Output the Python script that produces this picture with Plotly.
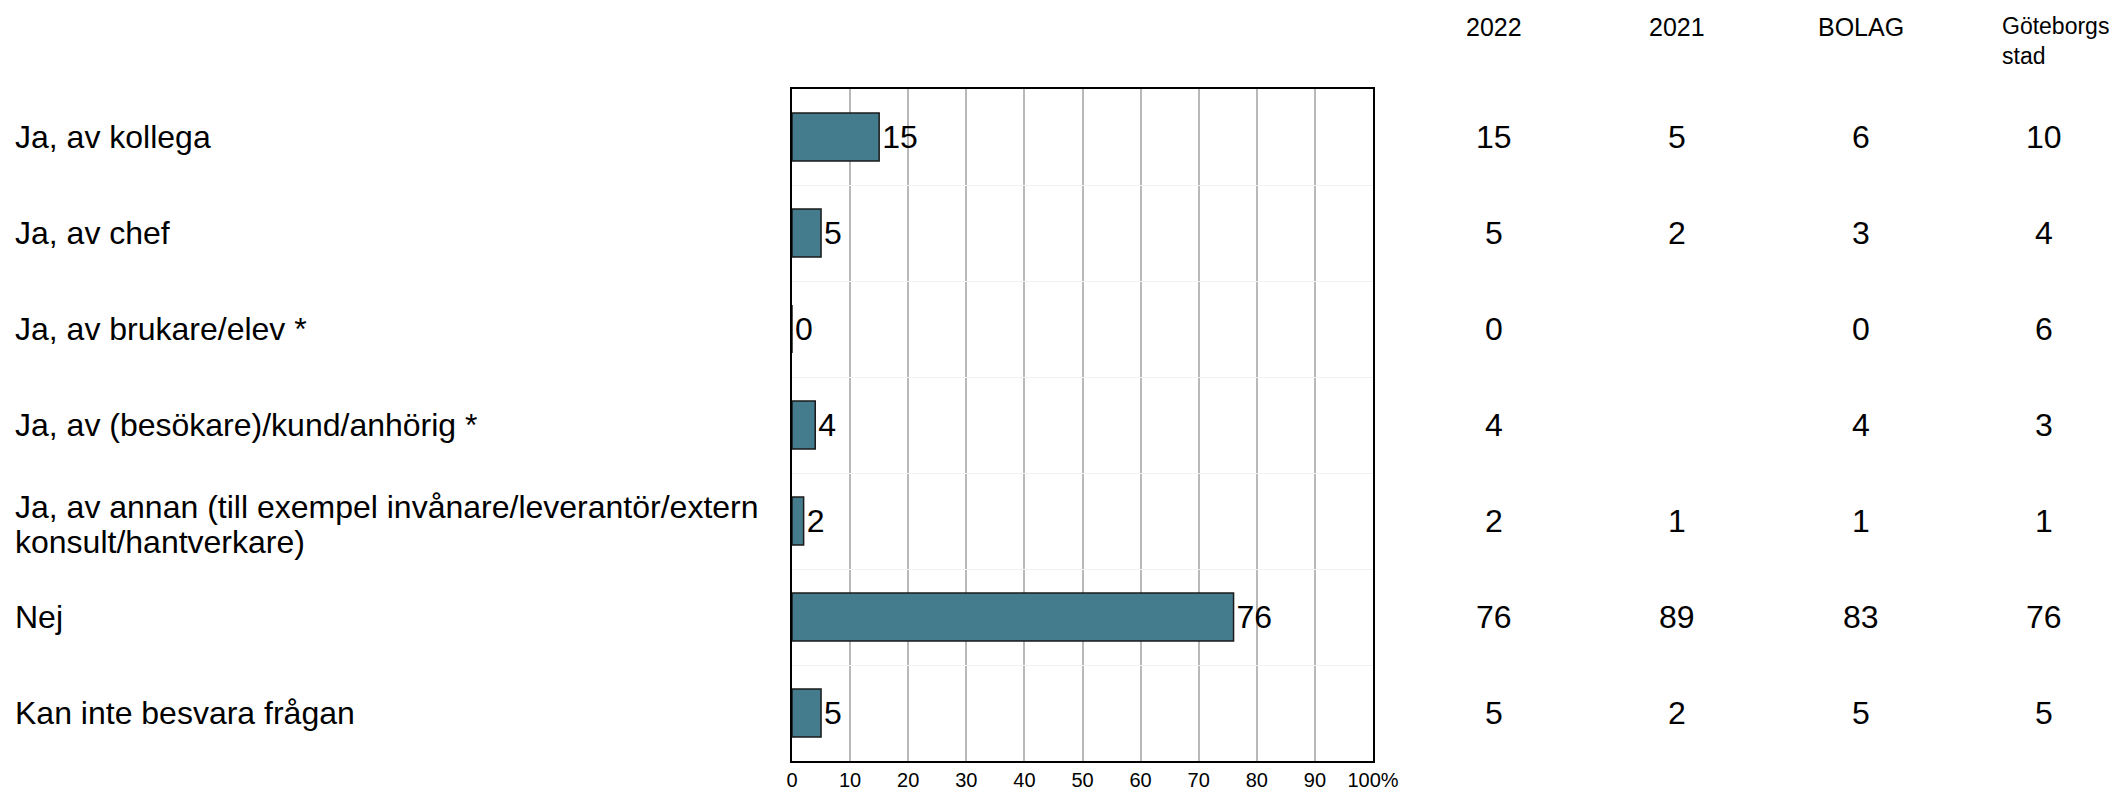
import plotly.graph_objects as go

categories = [
    "Ja, av kollega",
    "Ja, av chef",
    "Ja, av brukare/elev *",
    "Ja, av (besökare)/kund/anhörig *",
    "Ja, av annan (till exempel invånare/leverantör/extern<br>konsult/hantverkare)",
    "Nej",
    "Kan inte besvara frågan",
]
values_2022 = [15, 5, 0, 4, 2, 76, 5]
values_2021 = [5, 2, None, None, 1, 89, 2]
values_bolag = [6, 3, 0, 4, 1, 83, 5]
values_gbg = [10, 4, 6, 3, 1, 76, 5]
table_headers = ["2022", "2021", "BOLAG", "Göteborgs<br>stad"]
x_tickvals = [0, 10, 20, 30, 40, 50, 60, 70, 80, 90, 100]
x_ticktext = ["0", "10", "20", "30", "40", "50", "60", "70", "80", "90", "100%"]

W, H = 2109, 793
PL, PR, PT, PB = 792, 1373, 89, 761
FONT = "Liberation Sans, Arial, sans-serif"


def px_x(p):
    return (p - PL) / (PR - PL)


def px_y(p):
    return (PB - p) / (PB - PT)


fig = go.Figure()
fig.add_trace(go.Bar(
    y=categories,
    x=values_2022,
    orientation="h",
    width=0.5,
    marker=dict(color="#447C8E", line=dict(color="#1a1a1a", width=1.5)),
    text=values_2022,
    texttemplate="%{x}",
    textposition="outside",
    constraintext="none",
    cliponaxis=False,
    textfont=dict(size=32, color="black", family=FONT),
    hoverinfo="skip",
))

annotations = []
for cat in categories:
    lines = cat.split("<br>")
    if len(lines) == 1:
        shifts = [0]
    else:
        shifts = [14, -21]
    for line, ys in zip(lines, shifts):
        annotations.append(dict(
            x=px_x(13), xref="paper", y=cat, yref="y", yshift=ys,
            text=line, showarrow=False, xanchor="left", yanchor="middle", align="left",
            font=dict(size=32, color="black", family=FONT),
        ))

col_x = [1494, 1677, 1861, 2044]
cols = [values_2022, values_2021, values_bolag, values_gbg]
for cx, col in zip(col_x, cols):
    for cat, v in zip(categories, col):
        if v is None:
            continue
        annotations.append(dict(
            x=px_x(cx), xref="paper", y=cat, yref="y",
            text=str(v), showarrow=False, xanchor="center", yanchor="middle",
            font=dict(size=32, color="black", family=FONT),
        ))

for i, (cx, h) in enumerate(zip(col_x, table_headers)):
    if i < 3:
        annotations.append(dict(
            x=px_x(cx), xref="paper", y=px_y(27), yref="paper",
            text=h, showarrow=False, xanchor="center", yanchor="middle",
            font=dict(size=25, color="black", family=FONT),
        ))
    else:
        annotations.append(dict(
            x=px_x(2000), xref="paper", y=px_y(41), yref="paper",
            text=h, showarrow=False, xanchor="left", yanchor="middle", align="left",
            font=dict(size=23, color="black", family=FONT),
        ))

fig.update_layout(
    width=W, height=H,
    margin=dict(l=PL, r=W - PR, t=PT, b=H - PB, pad=0, autoexpand=False),
    paper_bgcolor="white", plot_bgcolor="white",
    showlegend=False,
    annotations=annotations,
    font=dict(family=FONT, color="black"),
    xaxis=dict(
        range=[0, 100], tickvals=x_tickvals, ticktext=x_ticktext,
        showgrid=True, gridcolor="#b8b8b8", gridwidth=2,
        showline=True, linecolor="black", linewidth=2, mirror=True,
        zeroline=False, ticks="", tickfont=dict(size=20, color="black", family=FONT),
        fixedrange=True, automargin=False,
    ),
    yaxis=dict(
        type="category", categoryorder="array", categoryarray=categories,
        autorange="reversed",
        showticklabels=False, tickson="boundaries",
        showgrid=True, gridcolor="#f2f2f2", gridwidth=1,
        showline=True, linecolor="black", linewidth=2, mirror=True,
        ticks="", zeroline=False, fixedrange=True, automargin=False,
    ),
)

fig.write_html(
    "out.html",
    config={"displayModeBar": False},
    post_script="document.body.style.margin='0';document.body.style.overflow='hidden';",
)
